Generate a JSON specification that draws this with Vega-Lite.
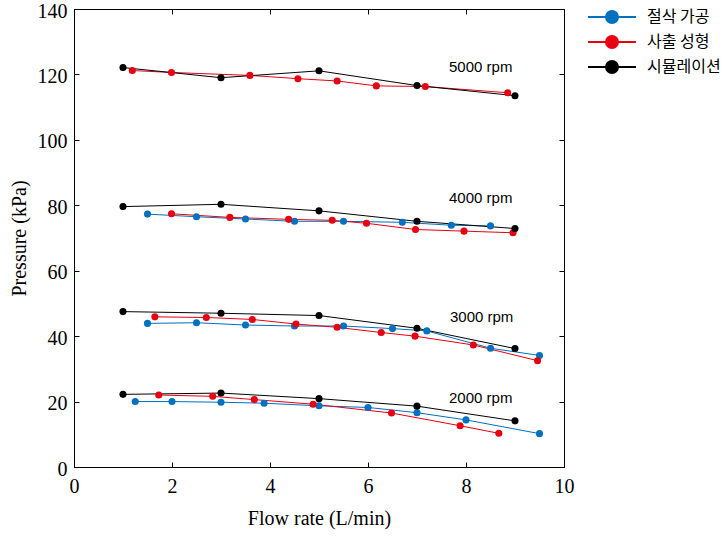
{
  "$schema": "https://vega.github.io/schema/vega-lite/v6.json",
  "autosize": "none",
  "padding": {"left": 74, "top": 9, "right": 159, "bottom": 69},
  "width": 490,
  "height": 458,
  "background": "white",
  "config": {
    "view": {"stroke": "black", "strokeWidth": 1},
    "axis": {
      "grid": false,
      "domainColor": "black",
      "tickColor": "black",
      "labelColor": "black",
      "titleColor": "black",
      "labelFont": "Liberation Serif",
      "titleFont": "Liberation Serif",
      "labelFontSize": 20,
      "titleFontSize": 20,
      "titleFontWeight": "normal",
      "labelFlush": false,
      "tickSize": -5
    }
  },
  "datasets": {
    "series": [
      {"t": "절삭 가공", "rpm": 2000, "x": 1.25, "y": 20.0},
      {"t": "절삭 가공", "rpm": 2000, "x": 2.0, "y": 20.0},
      {"t": "절삭 가공", "rpm": 2000, "x": 3.0, "y": 19.8},
      {"t": "절삭 가공", "rpm": 2000, "x": 3.88, "y": 19.5},
      {"t": "절삭 가공", "rpm": 2000, "x": 5.0, "y": 18.7},
      {"t": "절삭 가공", "rpm": 2000, "x": 6.0, "y": 18.2},
      {"t": "절삭 가공", "rpm": 2000, "x": 7.0, "y": 16.6},
      {"t": "절삭 가공", "rpm": 2000, "x": 8.0, "y": 14.4},
      {"t": "절삭 가공", "rpm": 2000, "x": 9.5, "y": 10.2},
      {"t": "절삭 가공", "rpm": 3000, "x": 1.5, "y": 43.9},
      {"t": "절삭 가공", "rpm": 3000, "x": 2.5, "y": 44.1},
      {"t": "절삭 가공", "rpm": 3000, "x": 3.5, "y": 43.4},
      {"t": "절삭 가공", "rpm": 3000, "x": 4.5, "y": 43.1},
      {"t": "절삭 가공", "rpm": 3000, "x": 5.5, "y": 43.1},
      {"t": "절삭 가공", "rpm": 3000, "x": 6.5, "y": 42.3},
      {"t": "절삭 가공", "rpm": 3000, "x": 7.2, "y": 41.6},
      {"t": "절삭 가공", "rpm": 3000, "x": 8.5, "y": 36.3},
      {"t": "절삭 가공", "rpm": 3000, "x": 9.5, "y": 34.1},
      {"t": "절삭 가공", "rpm": 4000, "x": 1.5, "y": 77.3},
      {"t": "절삭 가공", "rpm": 4000, "x": 2.5, "y": 76.5},
      {"t": "절삭 가공", "rpm": 4000, "x": 3.5, "y": 75.8},
      {"t": "절삭 가공", "rpm": 4000, "x": 4.5, "y": 75.1},
      {"t": "절삭 가공", "rpm": 4000, "x": 5.5, "y": 75.1},
      {"t": "절삭 가공", "rpm": 4000, "x": 6.7, "y": 74.8},
      {"t": "절삭 가공", "rpm": 4000, "x": 7.7, "y": 73.9},
      {"t": "절삭 가공", "rpm": 4000, "x": 8.5, "y": 73.7},
      {"t": "사출 성형", "rpm": 2000, "x": 1.73, "y": 22.0},
      {"t": "사출 성형", "rpm": 2000, "x": 2.83, "y": 21.6},
      {"t": "사출 성형", "rpm": 2000, "x": 3.68, "y": 20.6},
      {"t": "사출 성형", "rpm": 2000, "x": 4.88, "y": 19.2},
      {"t": "사출 성형", "rpm": 2000, "x": 6.48, "y": 16.5},
      {"t": "사출 성형", "rpm": 2000, "x": 7.88, "y": 12.6},
      {"t": "사출 성형", "rpm": 2000, "x": 8.67, "y": 10.3},
      {"t": "사출 성형", "rpm": 3000, "x": 1.65, "y": 45.9},
      {"t": "사출 성형", "rpm": 3000, "x": 2.7, "y": 45.7},
      {"t": "사출 성형", "rpm": 3000, "x": 3.64, "y": 45.1},
      {"t": "사출 성형", "rpm": 3000, "x": 4.53, "y": 43.7},
      {"t": "사출 성형", "rpm": 3000, "x": 5.37, "y": 42.7},
      {"t": "사출 성형", "rpm": 3000, "x": 6.27, "y": 41.1},
      {"t": "사출 성형", "rpm": 3000, "x": 6.96, "y": 40.0},
      {"t": "사출 성형", "rpm": 3000, "x": 8.15, "y": 37.3},
      {"t": "사출 성형", "rpm": 3000, "x": 9.46, "y": 32.5},
      {"t": "사출 성형", "rpm": 4000, "x": 1.99, "y": 77.4},
      {"t": "사출 성형", "rpm": 4000, "x": 3.18, "y": 76.3},
      {"t": "사출 성형", "rpm": 4000, "x": 4.38, "y": 75.7},
      {"t": "사출 성형", "rpm": 4000, "x": 5.27, "y": 75.4},
      {"t": "사출 성형", "rpm": 4000, "x": 5.97, "y": 74.5},
      {"t": "사출 성형", "rpm": 4000, "x": 6.97, "y": 72.6},
      {"t": "사출 성형", "rpm": 4000, "x": 7.96, "y": 72.1},
      {"t": "사출 성형", "rpm": 4000, "x": 8.96, "y": 71.6},
      {"t": "사출 성형", "rpm": 5000, "x": 1.19, "y": 121.2},
      {"t": "사출 성형", "rpm": 5000, "x": 1.99, "y": 120.6},
      {"t": "사출 성형", "rpm": 5000, "x": 3.59, "y": 119.7},
      {"t": "사출 성형", "rpm": 5000, "x": 4.57, "y": 118.7},
      {"t": "사출 성형", "rpm": 5000, "x": 5.37, "y": 118.0},
      {"t": "사출 성형", "rpm": 5000, "x": 6.17, "y": 116.5},
      {"t": "사출 성형", "rpm": 5000, "x": 7.17, "y": 116.3},
      {"t": "사출 성형", "rpm": 5000, "x": 8.85, "y": 114.4},
      {"t": "시뮬레이션", "rpm": 2000, "x": 1, "y": 22.2},
      {"t": "시뮬레이션", "rpm": 2000, "x": 3, "y": 22.6},
      {"t": "시뮬레이션", "rpm": 2000, "x": 5, "y": 20.9},
      {"t": "시뮬레이션", "rpm": 2000, "x": 7, "y": 18.6},
      {"t": "시뮬레이션", "rpm": 2000, "x": 9, "y": 14.1},
      {"t": "시뮬레이션", "rpm": 3000, "x": 1, "y": 47.5},
      {"t": "시뮬레이션", "rpm": 3000, "x": 3, "y": 47.0},
      {"t": "시뮬레이션", "rpm": 3000, "x": 5, "y": 46.3},
      {"t": "시뮬레이션", "rpm": 3000, "x": 7, "y": 42.4},
      {"t": "시뮬레이션", "rpm": 3000, "x": 9, "y": 36.2},
      {"t": "시뮬레이션", "rpm": 4000, "x": 1, "y": 79.6},
      {"t": "시뮬레이션", "rpm": 4000, "x": 3, "y": 80.3},
      {"t": "시뮬레이션", "rpm": 4000, "x": 5, "y": 78.3},
      {"t": "시뮬레이션", "rpm": 4000, "x": 7, "y": 75.1},
      {"t": "시뮬레이션", "rpm": 4000, "x": 9, "y": 72.9},
      {"t": "시뮬레이션", "rpm": 5000, "x": 1, "y": 122.1},
      {"t": "시뮬레이션", "rpm": 5000, "x": 3, "y": 119.0},
      {"t": "시뮬레이션", "rpm": 5000, "x": 5, "y": 121.1},
      {"t": "시뮬레이션", "rpm": 5000, "x": 7, "y": 116.6},
      {"t": "시뮬레이션", "rpm": 5000, "x": 9, "y": 113.5}
    ],
    "labels": [
      {"x": 8.3, "y": 122.4, "label": "5000 rpm"},
      {"x": 8.3, "y": 82.1, "label": "4000 rpm"},
      {"x": 8.32, "y": 45.8, "label": "3000 rpm"},
      {"x": 8.3, "y": 21.0, "label": "2000 rpm"}
    ]
  },
  "resolve": {"axis": {"x": "independent", "y": "independent"}},
  "layer": [
    {
      "data": {"name": "series"},
      "mark": {"type": "line", "strokeWidth": 1},
      "encoding": {
        "x": {"field": "x", "type": "quantitative", "scale": {"domain": [0, 10]},
              "axis": {"orient": "bottom", "values": [0, 2, 4, 6, 8, 10], "title": "Flow rate (L/min)", "labelPadding": 14, "titlePadding": 12}},
        "y": {"field": "y", "type": "quantitative", "scale": {"domain": [0, 140]},
              "axis": {"orient": "left", "values": [0, 20, 40, 60, 80, 100, 120, 140], "title": "Pressure (kPa)", "labelPadding": 12, "titlePadding": 8, "labelOffset": 2}},
        "color": {"field": "t", "type": "nominal",
                  "scale": {"domain": ["절삭 가공", "사출 성형", "시뮬레이션"], "range": ["#0070C0", "#E60012", "#000000"]},
                  "legend": {
                    "title": null,
                    "orient": "none",
                    "legendX": 525,
                    "legendY": -5,
                    "padding": 0,
                    "symbolType": "M-2,0L2,0M-0.5,0A0.5,0.5,0,1,1,0.5,0A0.5,0.5,0,1,1,-0.5,0Z",
                    "symbolSize": 576,
                    "symbolStrokeWidth": 2,
                    "labelOffset": 22,
                    "labelFont": "Noto Sans CJK KR",
                    "labelFontSize": 16,
                    "labelColor": "black",
                    "rowPadding": 2,
                    "encode": {"symbols": {"update": {"stroke": {"scale": "color", "field": "value"}, "fill": {"scale": "color", "field": "value"}, "opacity": {"value": 1}}}}
                  }},
        "detail": {"field": "rpm", "type": "nominal"}
      }
    },
    {
      "data": {"name": "series"},
      "mark": {"type": "point", "filled": true, "size": 50, "opacity": 1},
      "encoding": {
        "x": {"field": "x", "type": "quantitative", "axis": null},
        "y": {"field": "y", "type": "quantitative", "axis": null},
        "color": {"field": "t", "type": "nominal"}
      }
    },
    {
      "data": {"name": "labels"},
      "mark": {"type": "text", "font": "Liberation Sans", "fontSize": 15, "align": "center", "baseline": "middle", "color": "black"},
      "encoding": {
        "x": {"field": "x", "type": "quantitative",
              "axis": {"orient": "top", "values": [0, 2, 4, 6, 8, 10], "labels": false, "title": null}},
        "y": {"field": "y", "type": "quantitative",
              "axis": {"orient": "right", "values": [0, 20, 40, 60, 80, 100, 120, 140], "labels": false, "title": null}},
        "text": {"field": "label", "type": "nominal"}
      }
    }
  ]
}
